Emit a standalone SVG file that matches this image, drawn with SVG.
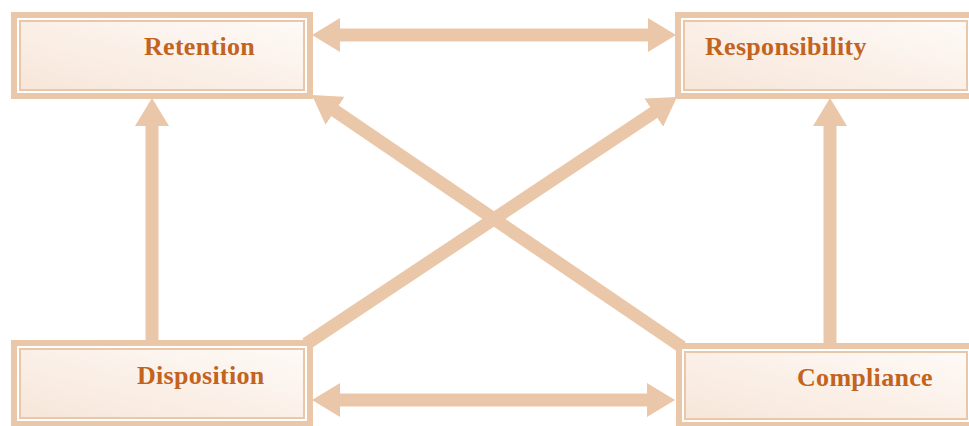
<svg xmlns="http://www.w3.org/2000/svg" width="969" height="426" viewBox="0 0 969 426">
  <defs>
    <linearGradient id="fill" x1="1" y1="0" x2="0" y2="1">
      <stop offset="0" stop-color="#fefaf7"/>
      <stop offset="1" stop-color="#f7e6d9"/>
    </linearGradient>
    <marker id="head" viewBox="0 0 28 34" markerUnits="userSpaceOnUse" markerWidth="28" markerHeight="34" refX="8" refY="17" orient="auto-start-reverse">
      <path d="M0,0 L28,17 L0,34 z" fill="#ebc7a9"/>
    </marker>
  </defs>
  <style>
    .conn { stroke: #ebc7a9; stroke-width: 13; fill: none; }
    .outer { fill: none; stroke: #ebc7a9; stroke-width: 6; }
    .gap { fill: none; stroke: #ffffff; stroke-width: 2; }
    .inner { fill: url(#fill); stroke: #ebc7a9; stroke-width: 2; }
    .label { font-family: "Liberation Serif", "Times New Roman", serif; font-weight: bold; font-size: 26px; letter-spacing: 0.3px; fill: #c2631e; }
  </style>
  <rect width="969" height="426" fill="#ffffff"/>
  <g id="connectors">
    <line class="conn" x1="332" y1="35" x2="656" y2="35" marker-start="url(#head)" marker-end="url(#head)"/>
    <line class="conn" x1="332" y1="400" x2="655" y2="400" marker-start="url(#head)" marker-end="url(#head)"/>
    <line class="conn" x1="152" y1="342" x2="152" y2="118" marker-end="url(#head)"/>
    <line class="conn" x1="830" y1="345" x2="830" y2="118" marker-end="url(#head)"/>
    <line class="conn" x1="306" y1="344" x2="660.4" y2="108.1" marker-end="url(#head)"/>
    <line class="conn" x1="682" y1="347" x2="328.5" y2="106.3" marker-end="url(#head)"/>
  </g>
  <g id="retention">
    <rect class="outer" x="14" y="15" width="296" height="81"/>
    <rect class="inner" x="20" y="21" width="284" height="69"/>
    <rect class="gap" x="18" y="19" width="288" height="73"/>
    <text class="label" x="144" y="55">Retention</text>
  </g>
  <g id="responsibility">
    <rect class="outer" x="678" y="15" width="300" height="81"/>
    <rect class="inner" x="684" y="21" width="283" height="69"/>
    <rect class="gap" x="682" y="19" width="300" height="73"/>
    <text class="label" x="705" y="55">Responsibility</text>
  </g>
  <g id="disposition">
    <rect class="outer" x="14" y="343" width="296" height="81"/>
    <rect class="inner" x="20" y="349" width="284" height="69"/>
    <rect class="gap" x="18" y="347" width="288" height="73"/>
    <text class="label" x="137" y="384">Disposition</text>
  </g>
  <g id="compliance">
    <rect class="outer" x="679" y="346" width="300" height="79"/>
    <rect class="inner" x="685" y="352" width="282" height="67"/>
    <rect class="gap" x="683" y="350" width="300" height="71"/>
    <text class="label" x="797" y="386">Compliance</text>
  </g>
</svg>
